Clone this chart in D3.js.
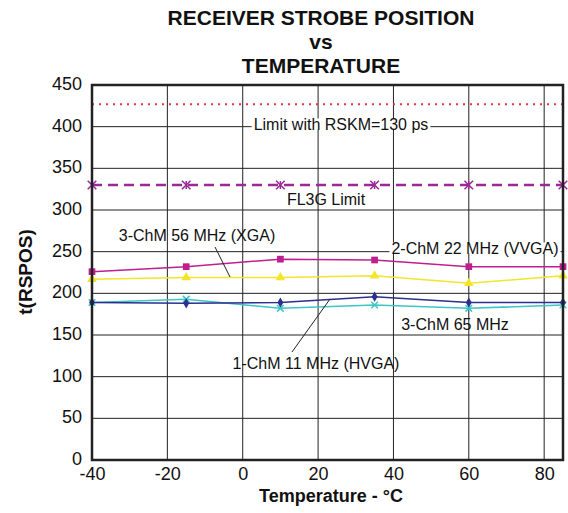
<!DOCTYPE html>
<html><head><meta charset="utf-8">
<script src="https://cdn.jsdelivr.net/npm/d3@7/dist/d3.min.js"></script>
<style>body{margin:0;background:#fff}svg{display:block;font-family:"Liberation Sans",Arial,sans-serif}</style>
</head><body><svg id="c" width="568" height="513"></svg>
<script>
const temps = [-40, -15, 10, 35, 60, 85];
const vvga22 = [226, 232, 241, 240, 232, 232];
const xga56 = [217, 219, 219, 221, 212, 221];
const hvga11 = [189, 188, 189, 196, 189, 189];
const chm65 = [189, 193, 182, 186, 182, 186];
const rskmLimit = 427;
const fl3gLimit = 330;
const xTicks = [-40, -20, 0, 20, 40, 60, 80];
const yTicks = [0, 50, 100, 150, 200, 250, 300, 350, 400, 450];

const FF = "Liberation Sans, Arial, sans-serif";
const svg = d3.select("#c");
const L = 92, R = 563, T = 85, B = 460;
const x = d3.scaleLinear().domain([-40, 85]).range([L, R]);
const y = d3.scaleLinear().domain([0, 450]).range([B, T]);

// grid
const g = svg.append("g");
g.selectAll(".vg").data(xTicks.filter(t => t > -40)).enter().append("line")
  .attr("x1", d => x(d)).attr("x2", d => x(d)).attr("y1", T).attr("y2", B)
  .attr("stroke", "#222").attr("stroke-width", 1);
g.selectAll(".hg").data(yTicks.filter(t => t > 0 && t < 450)).enter().append("line")
  .attr("x1", L).attr("x2", R).attr("y1", d => y(d)).attr("y2", d => y(d))
  .attr("stroke", "#222").attr("stroke-width", 1);

// axes (labels only)
const xa = svg.append("g").attr("transform", `translate(0,${B})`)
  .call(d3.axisBottom(x).tickValues(xTicks).tickFormat(d => String(d)).tickSize(0).tickPadding(7));
xa.select(".domain").remove();
xa.selectAll("text").attr("font-size", 18).attr("fill", "#111").attr("font-family", FF);
const ya = svg.append("g").attr("transform", `translate(${L},0)`)
  .call(d3.axisLeft(y).tickValues(yTicks).tickFormat(d => String(d)).tickSize(0).tickPadding(10));
ya.select(".domain").remove();
ya.selectAll("text").attr("font-size", 18).attr("fill", "#111").attr("font-family", FF).attr("dy", "0.25em");

// limit lines
svg.append("line").attr("x1", L).attr("x2", R).attr("y1", y(rskmLimit)).attr("y2", y(rskmLimit))
  .attr("stroke", "#e0393b").attr("stroke-width", 2).attr("stroke-dasharray", "2,5");
svg.append("line").attr("x1", L).attr("x2", R).attr("y1", y(fl3gLimit)).attr("y2", y(fl3gLimit))
  .attr("stroke", "#9a2a95").attr("stroke-width", 2.5).attr("stroke-dasharray", "10,6");
svg.selectAll(".fl").data(temps).enter().append("path")
  .attr("d", d3.symbol().type(d3.symbolX).size(50)())
  .attr("transform", d => `translate(${x(d)},${y(fl3gLimit)})`)
  .attr("stroke", "#9a2a95").attr("stroke-width", 1.5).attr("fill", "none");
svg.selectAll(".fl2").data(temps).enter().append("line")
  .attr("x1", d => x(d)).attr("x2", d => x(d)).attr("y1", y(fl3gLimit) - 4).attr("y2", y(fl3gLimit) + 4)
  .attr("stroke", "#9a2a95").attr("stroke-width", 1.5);

const line = d3.line().x((d, i) => x(temps[i])).y(d => y(d));
function series(vals, color, sym, size, strokeOnly) {
  svg.append("path").datum(vals).attr("d", line).attr("fill", "none").attr("stroke", color).attr("stroke-width", 1.5);
  svg.selectAll(null).data(vals).enter().append("path")
    .attr("d", d3.symbol().type(sym).size(size)())
    .attr("transform", (d, i) => `translate(${x(temps[i])},${y(d)})`)
    .attr("fill", strokeOnly ? "none" : color).attr("stroke", color).attr("stroke-width", strokeOnly ? 1.5 : 0);
}
series(chm65, "#3cc6c4", d3.symbolX, 30, true);
series(hvga11, "#2b2f8f", d3.symbolDiamond, 30, false);
series(xga56, "#f2e52a", d3.symbolTriangle, 40, false);
series(vvga22, "#bf1f8e", d3.symbolSquare, 45, false);

// frame
svg.append("rect").attr("x", L).attr("y", T).attr("width", R - L).attr("height", B - T)
  .attr("fill", "none").attr("stroke", "#222").attr("stroke-width", 2.5);

// annotations
function label(txt, cx, cy, bg) {
  const t = svg.append("text").attr("x", cx).attr("y", cy).attr("text-anchor", "middle")
    .attr("dominant-baseline", "central").attr("font-size", 16).attr("fill", "#111").text(txt);
  if (bg) {
    const b = t.node().getBBox();
    svg.insert("rect", () => t.node()).attr("x", b.x - 2).attr("y", b.y + 3).attr("width", b.width + 4).attr("height", b.height - 6).attr("fill", "#fff");
  }
}
label("Limit with RSKM=130 ps", 341, 124, true);
label("FL3G Limit", 326, 199, false);
label("3-ChM 56 MHz (XGA)", 197, 235, false);
label("2-ChM 22 MHz (VVGA)", 475, 248, true);
label("3-ChM 65 MHz", 455, 324, false);
label("1-ChM 11 MHz (HVGA)", 316, 363, false);
svg.append("line").attr("x1", 215).attr("y1", 247).attr("x2", 230).attr("y2", 277).attr("stroke", "#222").attr("stroke-width", 1);
svg.append("line").attr("x1", 330).attr("y1", 299).attr("x2", 292).attr("y2", 352).attr("stroke", "#222").attr("stroke-width", 1);

// titles
const titles = ["RECEIVER STROBE POSITION", "vs", "TEMPERATURE"];
svg.selectAll(".tt").data(titles).enter().append("text")
  .attr("x", 321).attr("y", (d, i) => 25 + i * 24).attr("text-anchor", "middle")
  .attr("font-size", 21).attr("font-weight", "bold").attr("fill", "#111").text(d => d);
svg.append("text").attr("x", 331).attr("y", 502).attr("text-anchor", "middle")
  .attr("font-size", 18).attr("font-weight", "bold").attr("fill", "#111").text("Temperature - °C");
svg.append("text").attr("transform", "translate(32,272) rotate(-90)").attr("text-anchor", "middle")
  .attr("font-size", 19).attr("font-weight", "bold").attr("fill", "#111").text("t(RSPOS)");
</script></body></html>
